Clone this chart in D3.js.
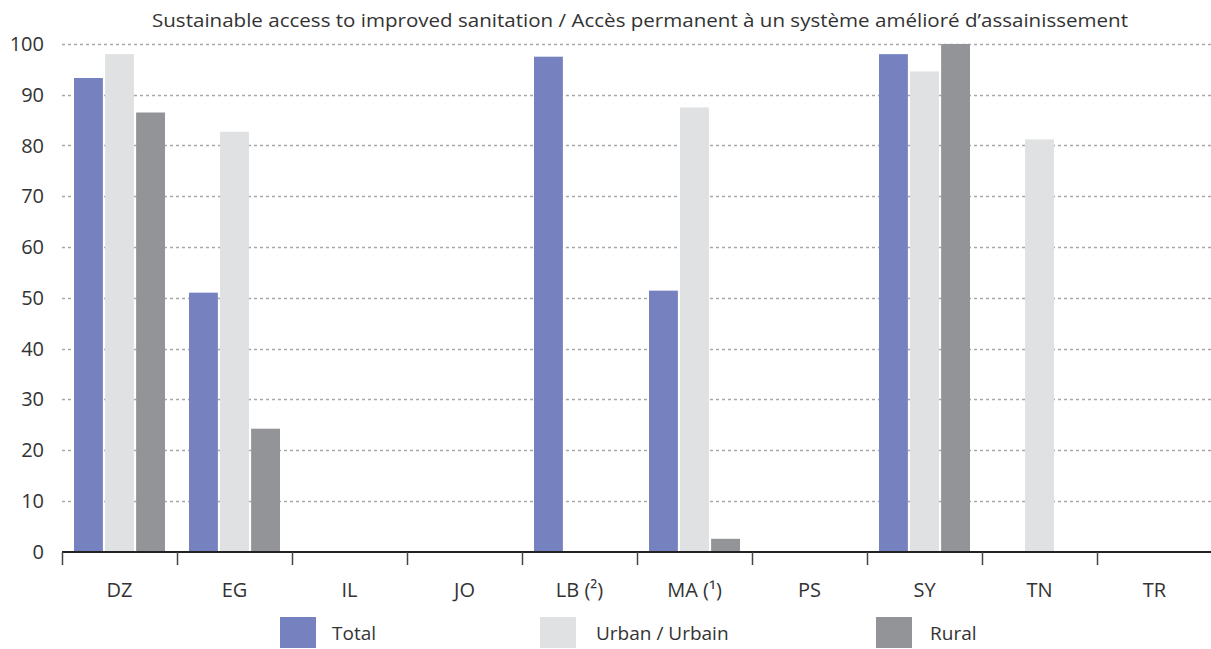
<!DOCTYPE html>
<html>
<head>
<meta charset="utf-8">
<script src="https://cdn.jsdelivr.net/npm/d3@7"></script>
<style>
  body { margin: 0; background: #fff; }
  svg text { font-family: "Open Sans", "Noto Sans", sans-serif; fill: #333; }
</style>
</head>
<body>
<div id="chart"></div>
<script>
const width = 1211, height = 649;

// data (null = no data)
const countries = ["DZ", "EG", "IL", "JO", "LB (²)", "MA (¹)", "PS", "SY", "TN", "TR"];
const series = ["Total", "Urban / Urbain", "Rural"];
const totalVals = [93.3, 51, null, null, 97.5, 51.4, null, 98, null, null];
const urbanVals = [98, 82.7, null, null, null, 87.5, null, 94.6, 81.2, null];
const ruralVals = [86.5, 24.2, null, null, null, 2.5, null, 100, null, null];
const yTicks = [0, 10, 20, 30, 40, 50, 60, 70, 80, 90, 100];
const colors = ["#7682c0", "#e0e1e3", "#939497"];
const title = "Sustainable access to improved sanitation / Accès permanent à un système amélioré d’assainissement";

const svg = d3.select("#chart").append("svg").attr("width", width).attr("height", height);

const x = d3.scaleBand().domain(countries).range([62, 1212]);
const y = d3.scaleLinear().domain([0, 100]).range([551.5, 44]);
const xs = d3.scaleBand().domain(series).range([12, 103]).paddingInner(0.07);

// title
svg.append("text").attr("x", 152).attr("y", 27)
  .attr("textLength", 976).attr("lengthAdjust", "spacingAndGlyphs")
  .style("font-size", "19px").text(title);

// grid
svg.append("g").selectAll("line").data(yTicks.filter(d => d > 0)).join("line")
  .attr("x1", 62).attr("x2", 1211)
  .attr("y1", d => Math.round(y(d)) + 0.5).attr("y2", d => Math.round(y(d)) + 0.5)
  .attr("stroke", "#a7a7a7").attr("stroke-width", 1.5).attr("stroke-dasharray", "3,3");

// y labels
svg.append("g").selectAll("text").data(yTicks).join("text")
  .attr("x", 44).attr("y", d => y(d) + 7).attr("text-anchor", "end")
  .style("font-size", "20px").text(d => d);

// bars
const rows = countries.map((c, i) => ({ c, vals: [totalVals[i], urbanVals[i], ruralVals[i]] }));
const g = svg.append("g").selectAll("g").data(rows).join("g")
  .attr("transform", d => `translate(${x(d.c)},0)`);
g.selectAll("rect").data(d => d.vals.map((v, k) => ({ v, s: series[k], k })).filter(e => e.v != null))
  .join("rect")
  .attr("x", d => xs(d.s)).attr("width", xs.bandwidth())
  .attr("y", d => y(d.v)).attr("height", d => y(0) - y(d.v))
  .attr("fill", d => colors[d.k]);

// x axis
svg.append("line").attr("x1", 62).attr("x2", 1211).attr("y1", 552).attr("y2", 552)
  .attr("stroke", "#222").attr("stroke-width", 2);
svg.append("g").selectAll("line").data(countries).join("line")
  .attr("x1", d => x(d) + 0.5).attr("x2", d => x(d) + 0.5).attr("y1", 552).attr("y2", 565)
  .attr("stroke", "#444").attr("stroke-width", 1.5);
svg.append("g").selectAll("text").data(countries).join("text")
  .attr("x", d => x(d) + x.bandwidth() / 2).attr("y", 597).attr("text-anchor", "middle")
  .style("font-size", "20px").text(d => d);

// legend
const legX = [280, 540, 876];
const leg = svg.append("g").selectAll("g").data(series).join("g")
  .attr("transform", (d, i) => `translate(${legX[i]},617)`);
leg.append("rect").attr("width", 36).attr("height", 31).attr("fill", (d, i) => colors[i]);
leg.append("text").attr("x", (d, i) => [52, 56, 54][i]).attr("y", 23)
  .style("font-size", "19px").text(d => d);
</script>
</body>
</html>
